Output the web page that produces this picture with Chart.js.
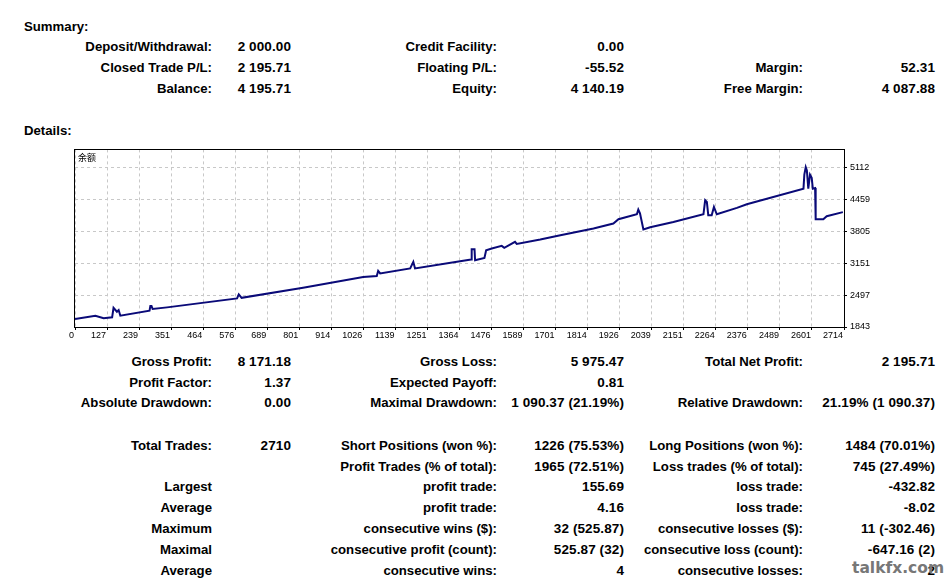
<!DOCTYPE html>
<html>
<head>
<meta charset="utf-8">
<script src="https://cdn.jsdelivr.net/npm/chart.js@4/dist/chart.umd.min.js"></script>
<style>
  html, body { margin: 0; padding: 0; background: #fff; }
  body { width: 951px; height: 580px; position: relative; overflow: hidden; }
  .t { position: absolute; font: bold 13.2px "Liberation Sans", Arial, sans-serif; line-height: 16px; color: #000; white-space: nowrap; }
  .c { width: 300px; text-align: right; }
  .c1l { left: -88px; } .c1v { left: -9px; }
  .c2l { left: 197px; } .c2v { left: 324px; }
  .c3l { left: 503px; } .c3v { left: 635px; }
  .c1v, .c2v, .c3v { font-size: 13.5px; letter-spacing: 0.1px; }
  #chartBox { position: absolute; left: 60px; top: 141px; width: 834px; height: 206px; }
  #caption { position: absolute; left: 78px; top: 151px; font: 9px "Noto Sans CJK SC", sans-serif; color: #000; }
  #wm { position: absolute; left: 852px; top: 559px; font: bold 15.5px "DejaVu Sans", sans-serif; color: #777; white-space: nowrap; }
</style>
</head>
<body>
<div class="t" style="left:24px;top:19px">Summary:</div>
<div class="t c c1l" style="top:39px">Deposit/Withdrawal:</div><div class="t c c1v" style="top:39px">2 000.00</div>
<div class="t c c2l" style="top:39px">Credit Facility:</div><div class="t c c2v" style="top:39px">0.00</div>
<div class="t c c1l" style="top:60px">Closed Trade P/L:</div><div class="t c c1v" style="top:60px">2 195.71</div>
<div class="t c c2l" style="top:60px">Floating P/L:</div><div class="t c c2v" style="top:60px">-55.52</div>
<div class="t c c3l" style="top:60px">Margin:</div><div class="t c c3v" style="top:60px">52.31</div>
<div class="t c c1l" style="top:81px">Balance:</div><div class="t c c1v" style="top:81px">4 195.71</div>
<div class="t c c2l" style="top:81px">Equity:</div><div class="t c c2v" style="top:81px">4 140.19</div>
<div class="t c c3l" style="top:81px">Free Margin:</div><div class="t c c3v" style="top:81px">4 087.88</div>
<div class="t" style="left:24px;top:123px">Details:</div>

<div id="chartBox"><canvas id="c" width="834" height="206"></canvas></div>
<div id="caption">余额</div>

<div class="t c c1l" style="top:354px">Gross Profit:</div><div class="t c c1v" style="top:354px">8 171.18</div>
<div class="t c c2l" style="top:354px">Gross Loss:</div><div class="t c c2v" style="top:354px">5 975.47</div>
<div class="t c c3l" style="top:354px">Total Net Profit:</div><div class="t c c3v" style="top:354px">2 195.71</div>
<div class="t c c1l" style="top:375px">Profit Factor:</div><div class="t c c1v" style="top:375px">1.37</div>
<div class="t c c2l" style="top:375px">Expected Payoff:</div><div class="t c c2v" style="top:375px">0.81</div>
<div class="t c c1l" style="top:395px">Absolute Drawdown:</div><div class="t c c1v" style="top:395px">0.00</div>
<div class="t c c2l" style="top:395px">Maximal Drawdown:</div><div class="t c c2v" style="top:395px">1 090.37 (21.19%)</div>
<div class="t c c3l" style="top:395px">Relative Drawdown:</div><div class="t c c3v" style="top:395px">21.19% (1 090.37)</div>

<div class="t c c1l" style="top:438px">Total Trades:</div><div class="t c c1v" style="top:438px">2710</div>
<div class="t c c2l" style="top:438px">Short Positions (won %):</div><div class="t c c2v" style="top:438px">1226 (75.53%)</div>
<div class="t c c3l" style="top:438px">Long Positions (won %):</div><div class="t c c3v" style="top:438px">1484 (70.01%)</div>
<div class="t c c2l" style="top:459px">Profit Trades (% of total):</div><div class="t c c2v" style="top:459px">1965 (72.51%)</div>
<div class="t c c3l" style="top:459px">Loss trades (% of total):</div><div class="t c c3v" style="top:459px">745 (27.49%)</div>
<div class="t c c1l" style="top:479px">Largest</div>
<div class="t c c2l" style="top:479px">profit trade:</div><div class="t c c2v" style="top:479px">155.69</div>
<div class="t c c3l" style="top:479px">loss trade:</div><div class="t c c3v" style="top:479px">-432.82</div>
<div class="t c c1l" style="top:500px">Average</div>
<div class="t c c2l" style="top:500px">profit trade:</div><div class="t c c2v" style="top:500px">4.16</div>
<div class="t c c3l" style="top:500px">loss trade:</div><div class="t c c3v" style="top:500px">-8.02</div>
<div class="t c c1l" style="top:521px">Maximum</div>
<div class="t c c2l" style="top:521px">consecutive wins ($):</div><div class="t c c2v" style="top:521px">32 (525.87)</div>
<div class="t c c3l" style="top:521px">consecutive losses ($):</div><div class="t c c3v" style="top:521px">11 (-302.46)</div>
<div class="t c c1l" style="top:542px">Maximal</div>
<div class="t c c2l" style="top:542px">consecutive profit (count):</div><div class="t c c2v" style="top:542px">525.87 (32)</div>
<div class="t c c3l" style="top:542px">consecutive loss (count):</div><div class="t c c3v" style="top:542px">-647.16 (2)</div>
<div class="t c c1l" style="top:563px">Average</div>
<div class="t c c2l" style="top:563px">consecutive wins:</div><div class="t c c2v" style="top:563px">4</div>
<div class="t c c3l" style="top:563px">consecutive losses:</div><div class="t c c3v" style="top:563px">2</div>
<div id="wm">talkfx.com</div>

<script>
// ---- data ----
const tradeIndex = [0, 72, 101, 131, 136, 148, 154, 160, 263, 266, 270, 274, 325, 572, 578, 588,
  805, 1017, 1065, 1070, 1077, 1183, 1194, 1200, 1359, 1398, 1400, 1410, 1412, 1445, 1451, 1471,
  1506, 1515, 1553, 1559, 1642, 1713, 1830, 1900, 1918, 1983, 1988, 1994, 2006, 2030, 2112, 2218,
  2224, 2230, 2235, 2247, 2255, 2265, 2336, 2371, 2571, 2574, 2579, 2583, 2588, 2594, 2600, 2604,
  2612, 2614, 2641, 2653, 2710];
const balance = [2006, 2074, 2021, 2041, 2237, 2156, 2190, 2074, 2176, 2272, 2272, 2211, 2245, 2429, 2511, 2440,
  2646, 2865, 2885, 2993, 2940, 3042, 3177, 3042, 3191, 3226, 3437, 3437, 3212, 3259, 3416, 3451,
  3504, 3463, 3586, 3545, 3635, 3723, 3859, 3962, 4049, 4152, 4248, 4170, 3839, 3886, 3994, 4152,
  4438, 4403, 4131, 4131, 4301, 4152, 4282, 4356, 4677, 4963, 5118, 5051, 4677, 4963, 4900, 4677,
  4690, 4049, 4049, 4111, 4196];
const xTickLabels = ['0','127','239','351','464','576','689','801','914','1026','1139','1251','1364',
  '1476','1589','1701','1814','1926','2039','2151','2264','2376','2489','2601','2714'];
const yTickValues = [1843, 2497, 3151, 3805, 4459, 5112];
const seriesName = '余额';

const X_MAX = 2714;
const Y_MIN = 1843, Y_MAX = 5480;

const frame = {
  id: 'frame',
  afterDraw(chart) {
    const a = chart.chartArea, ctx = chart.ctx;
    ctx.save();
    ctx.setLineDash([]);
    ctx.strokeStyle = '#000';
    ctx.lineWidth = 1;
    ctx.strokeRect(Math.round(a.left) - 0.5, Math.round(a.top) + 0.5,
      Math.round(a.right - a.left) + 1, Math.round(a.bottom - a.top));
    ctx.restore();
  }
};

const tickFont = { family: '"Liberation Sans", Arial, sans-serif', size: 9 };

new Chart(document.getElementById('c'), {
  type: 'line',
  data: {
    datasets: [{
      label: seriesName,
      data: tradeIndex.map((t, i) => ({ x: t, y: balance[i] })),
      borderColor: '#0a0a78',
      borderWidth: 2,
      pointRadius: 0,
      tension: 0,
      fill: false
    }]
  },
  options: {
    responsive: false,
    animation: false,
    devicePixelRatio: 1,
    layout: { padding: { left: 15, top: 8, right: 0, bottom: 0 } },
    plugins: { legend: { display: false }, tooltip: { enabled: false }, title: { display: false } },
    scales: {
      x: {
        type: 'linear',
        min: 0, max: X_MAX,
        afterBuildTicks(scale) {
          const step = X_MAX / (xTickLabels.length - 1);
          scale.ticks = xTickLabels.map((l, k) => ({ value: k * step }));
        },
        afterFit(scale) { scale.height = 20; },
        grid: { color: '#c8c8c8', lineWidth: 1, drawTicks: true, tickLength: 3, tickColor: '#000', tickBorderDash: [] },
        border: { display: false, dash: [3, 3] },
        ticks: {
          align: 'end', labelOffset: -1, padding: 0, maxRotation: 0, autoSkip: false,
          color: '#000', font: tickFont,
          callback: (v, i) => xTickLabels[i]
        }
      },
      y: {
        position: 'right',
        min: Y_MIN, max: Y_MAX,
        afterBuildTicks(scale) { scale.ticks = yTickValues.map(v => ({ value: v })); },
        afterFit(scale) { scale.width = 50; },
        grid: { color: '#c8c8c8', lineWidth: 1, drawTicks: true, tickLength: 3, tickColor: '#000', tickBorderDash: [] },
        border: { display: false, dash: [3, 3] },
        ticks: {
          padding: 3, color: '#000', font: tickFont, autoSkip: false,
          callback: (v) => String(v)
        }
      }
    }
  },
  plugins: [frame]
});
</script>
</body>
</html>
